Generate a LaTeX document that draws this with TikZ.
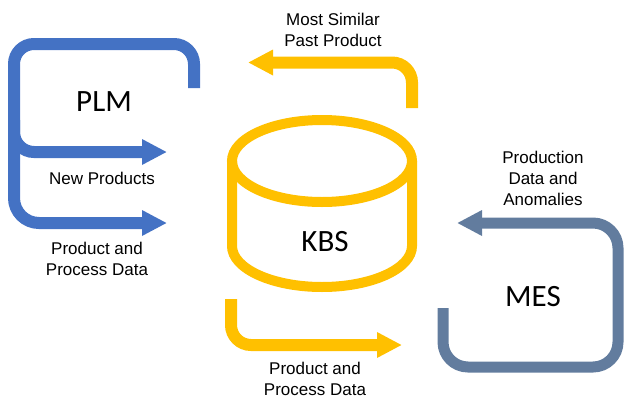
\documentclass[tikz,border=0pt]{standalone}
\usepackage{fontspec}
\setmainfont{Liberation Sans}
\newfontfamily\calib{Carlito}
\usetikzlibrary{arrows.meta}
\definecolor{plmblue}{HTML}{4472C4}
\definecolor{kbsyellow}{HTML}{FFC000}
\definecolor{mesgray}{RGB}{98,124,158}
\tikzset{
  bigtext/.style={font=\calib\fontsize{31}{35}\selectfont, inner sep=0pt},
  smalltext/.style={font=\fontsize{17}{21}\selectfont, align=center, inner sep=0pt},
  flow/.style={line width=12pt, rounded corners=20pt, -{Triangle[length=25pt,width=24pt]}},
}
\begin{document}
\begin{tikzpicture}[x=1pt,y=-1pt]
\useasboundingbox (0,0) rectangle (624,402);
% PLM
\coordinate (plmstart) at (194,88);
\coordinate (plmtopr) at (194,44);
\coordinate (plmtopl) at (14,44);
\coordinate (npcorner) at (14,152);
\coordinate (nptip) at (167,152);
\coordinate (ppstart) at (14,120);
\coordinate (ppcorner) at (14,223);
\coordinate (pptip) at (167,223);
\draw[flow, plmblue] (plmstart) -- (plmtopr) -- (plmtopl) -- (npcorner) -- (nptip);
\draw[flow, plmblue, rounded corners=25pt] (ppstart) -- (ppcorner) -- (pptip);
\node[bigtext] (plm) at (104,102) {PLM};
\node[smalltext] (newprod) at (102,178) {New Products};
\node[smalltext] (ppdata1) at (97,259) {Product and\\Process Data};
% KBS cylinder
\coordinate (kbstop) at (322,161);
\coordinate (kbsbl) at (232,161);
\draw[kbsyellow, line width=10pt, fill=white] (kbsbl) -- (232,246) arc[start angle=180, end angle=360, x radius=90pt, y radius=41pt] -- (412,161);
\draw[kbsyellow, line width=10pt] (kbstop) ellipse[x radius=90pt, y radius=41pt];
\node[bigtext] (kbs) at (325,242) {KBS};
% top yellow arrow
\coordinate (msstart) at (412,108);
\coordinate (mscorner) at (412,62.5);
\coordinate (mstip) at (248,62.5);
\draw[flow, kbsyellow] (msstart) -- (mscorner) -- (mstip);
\node[smalltext] (mostsim) at (333,30) {Most Similar\\Past Product};
% bottom yellow arrow
\coordinate (ppbstart) at (231,299);
\coordinate (ppbcorner) at (231,345);
\coordinate (ppbtip) at (402,345);
\draw[flow, kbsyellow] (ppbstart) -- (ppbcorner) -- (ppbtip);
\node[smalltext] (ppdata2) at (315,378.5) {Product and\\Process Data};
% MES
\coordinate (messtart) at (443,308);
\coordinate (mesbl) at (443,367);
\coordinate (mesbr) at (618,367);
\coordinate (mestr) at (618,223);
\coordinate (mestip) at (457,223);
\draw[flow, mesgray, line width=11pt, rounded corners=25pt] (messtart) -- (mesbl) -- (mesbr) -- (mestr) -- (mestip);
\node[bigtext] (mes) at (533,297) {MES};
\node[smalltext] (proddata) at (543,178) {Production\\Data and\\Anomalies};
\end{tikzpicture}
\end{document}
